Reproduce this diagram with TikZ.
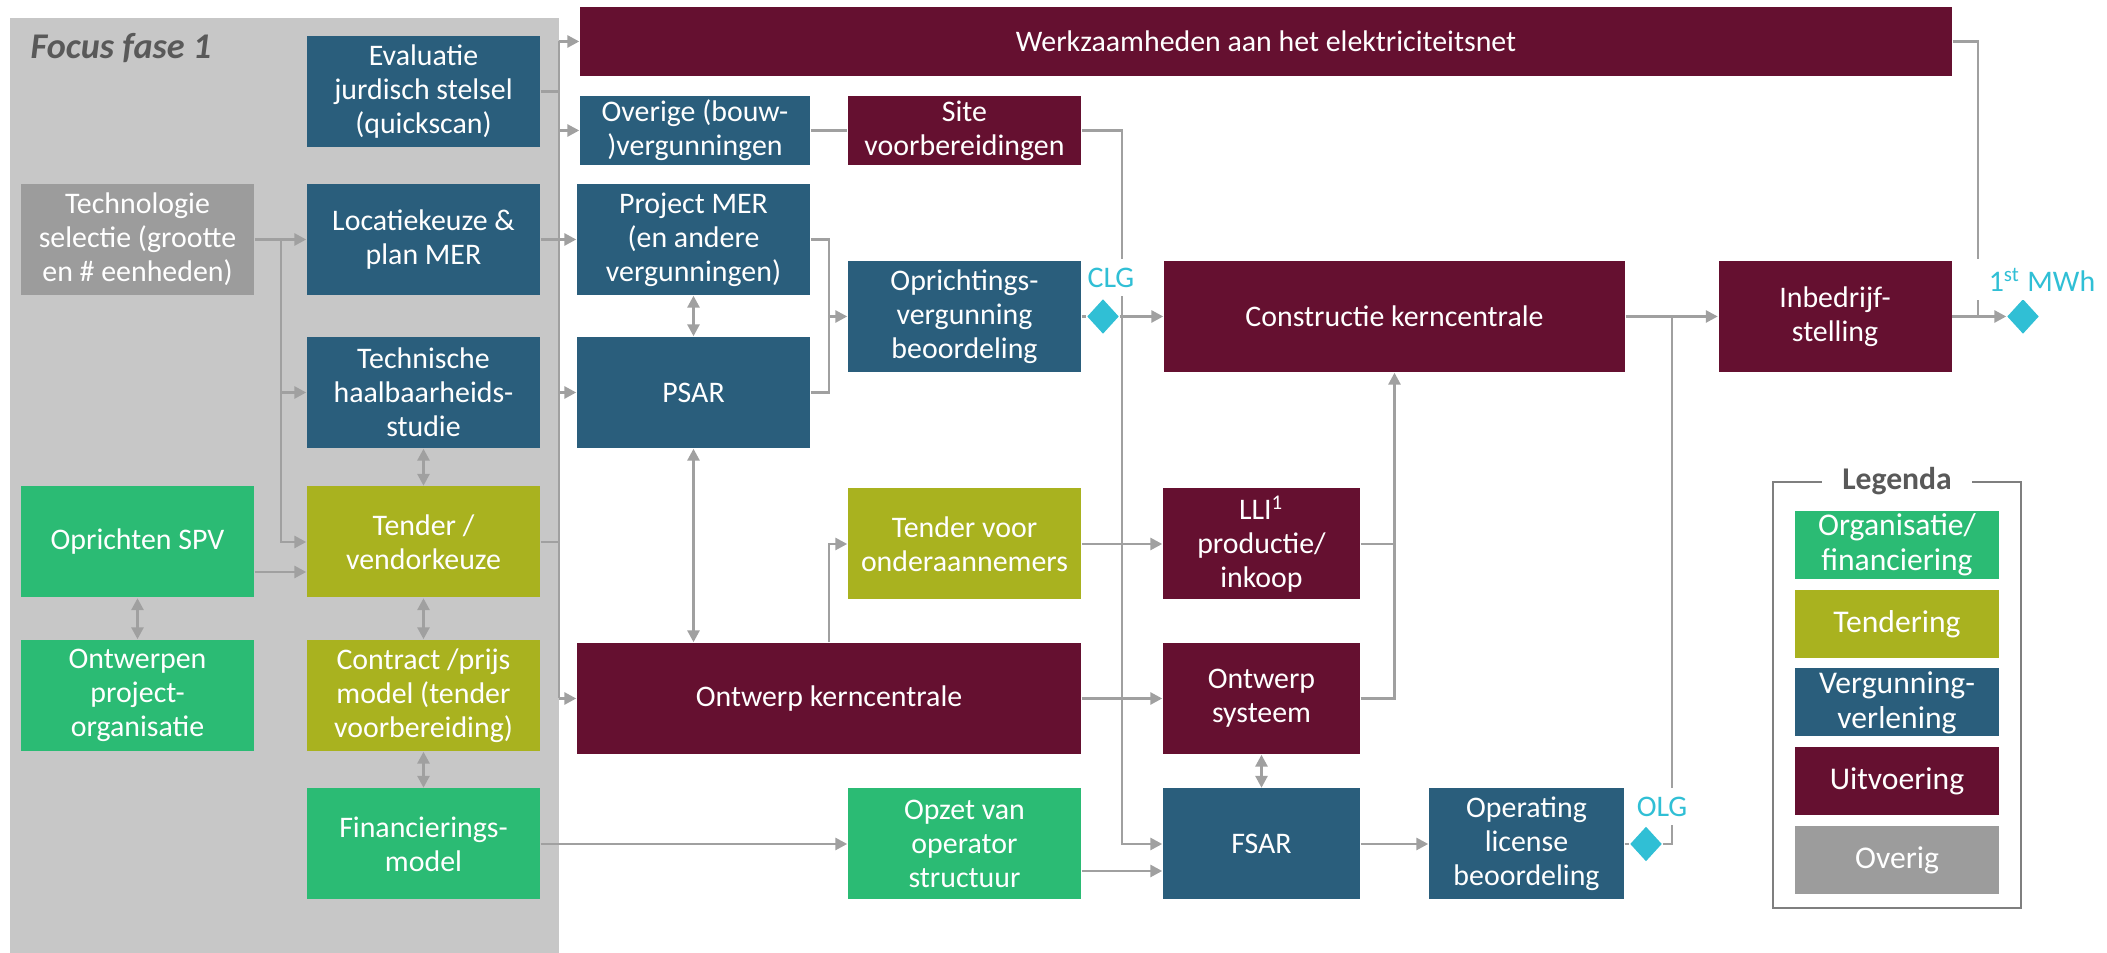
\documentclass[tikz,border=0pt]{standalone}
\usepackage{fontspec}
\setmainfont{Carlito}
\usetikzlibrary{shapes.geometric,arrows.meta}
\definecolor{vergunblauw}{HTML}{2A5E7C}
\definecolor{uitvoerrood}{HTML}{651030}
\definecolor{tenderolijf}{HTML}{A9B21F}
\definecolor{orggroen}{HTML}{2BBB74}
\definecolor{overiggrijs}{HTML}{9C9C9C}
\definecolor{paneelgrijs}{HTML}{C7C7C7}
\definecolor{lijngrijs}{HTML}{A0A0A0}
\definecolor{mijlcyaan}{HTML}{30BFD5}
\definecolor{tekstgrijs}{HTML}{595959}
\definecolor{kadergrijs}{HTML}{7F7F7F}
\begin{document}
\begin{tikzpicture}[x=0.1mm,y=-0.1mm]
\tikzstyle{box}=[rectangle,text=white,align=center,inner sep=0,minimum width=23.3mm,minimum height=11.1mm,font=\fontsize{8.5}{9.7}\selectfont]
\tikzstyle{link}=[draw=lijngrijs,line width=0.28mm]
\tikzset{
	green node/.style={box,fill=orggroen},
	olive node/.style={box,fill=tenderolijf},
	blue node/.style={box,fill=vergunblauw},
	wine node/.style={box,fill=uitvoerrood},
	grey node/.style={box,fill=overiggrijs},
	legend node/.style={minimum width=20.4mm,minimum height=6.8mm,font=\fontsize{9}{10}\selectfont},
	mijlpaal/.style={diamond,fill=mijlcyaan,inner sep=0,minimum width=3.2mm,minimum height=3.5mm},
	mijlpaal label/.style={fill=white,text=mijlcyaan,inner ysep=0.9mm,font=\fontsize{8.5}{9.7}\selectfont},
	flow/.style={link,-{Triangle[length=1.2mm,width=1.2mm]}},
	twoway/.style={link,{Triangle[length=1.2mm,width=1.2mm]}-{Triangle[length=1.2mm,width=1.2mm]}}
}
\useasboundingbox (0,0) rectangle (2107,953);
\node[fill=paneelgrijs,minimum width=54.9mm,minimum height=93.5mm,inner sep=0] (fase1) at (284.5,485.5) {};
\node[anchor=west,inner sep=0,text=tekstgrijs,font=\fontsize{10.3}{12}\selectfont\bfseries\itshape] (fase1titel) at (30,48) {Focus fase 1};

\node[grey node] (techsel) at (137.5,239.5) {Technologie\\selectie (grootte\\en \# eenheden)};
\node[blue node] (evaluatie) at (423.5,91.5) {Evaluatie\\jurdisch stelsel\\(quickscan)};
\node[blue node] (locatie) at (423.5,239.5) {Locatiekeuze \&\\plan MER};
\node[blue node] (haalbaar) at (423.5,392.5) {Technische\\haalbaarheids-\\studie};
\node[green node] (spv) at (137.5,542) {Oprichten SPV};
\node[olive node] (vendor) at (423.5,542) {Tender /\\vendorkeuze};
\node[green node] (projorg) at (137.5,695.5) {Ontwerpen\\project-\\organisatie};
\node[olive node] (contract) at (423.5,695.5) {Contract /prijs\\model (tender\\voorbereiding)};
\node[green node] (finmodel) at (423.5,844) {Financierings-\\model};

\node[wine node,minimum width=137.2mm,minimum height=6.9mm] (net) at (1266,41.5) {Werkzaamheden aan het elektriciteitsnet};
\node[blue node,minimum width=23mm,minimum height=6.9mm] (overige) at (695,130.5) {Overige (bouw-\\)vergunningen};
\node[wine node,minimum height=6.9mm] (site) at (964.5,130.5) {Site\\voorbereidingen};
\node[blue node] (mer) at (693.5,239.5) {Project MER\\(en andere\\vergunningen)};
\node[blue node] (psar) at (693.5,392.5) {PSAR};
\node[blue node] (oprichting) at (964.5,316.5) {Oprichtings-\\vergunning\\beoordeling};
\node[wine node,minimum width=46.1mm] (constructie) at (1394.5,316.5) {Constructie kerncentrale};
\node[wine node] (inbedrijf) at (1835,316.5) {Inbedrijf-\\stelling};
\node[olive node] (tendervoor) at (964.5,544) {Tender voor\\onderaannemers};
\node[wine node,minimum width=19.7mm] (lli) at (1261.5,544) {LLI\textsuperscript{1}\\productie/\\inkoop};
\node[wine node,minimum width=50.4mm] (ontwerp) at (829,698.5) {Ontwerp kerncentrale};
\node[wine node,minimum width=19.7mm] (systeem) at (1261.5,698.5) {Ontwerp\\systeem};
\node[green node] (opzet) at (964.5,844) {Opzet van\\operator\\structuur};
\node[blue node,minimum width=19.7mm] (fsar) at (1261.5,844) {FSAR};
\node[blue node,minimum width=19.5mm] (olic) at (1526.5,844) {Operating\\license\\beoordeling};
\node[mijlpaal] (clg) at (1103,316.5) {};
\node[mijlpaal] (olg) at (1646,844) {};
\node[mijlpaal] (mwh) at (2023,316.5) {};

\coordinate (bus) at (559,0);
\coordinate (splits) at (281,0);
\coordinate (jmer) at (829,316.5);
\coordinate (jsite) at (1122,0);
\coordinate (jolg) at (1672,0);
\coordinate (jnet) at (1978,0);

\draw[flow] (techsel) -- (locatie);
\draw[flow] (splits |- techsel.east) |- (haalbaar.west);
\draw[flow] (splits |- techsel.east) |- (vendor.west);
\draw[flow] ([yshift=-3mm]spv.east) -- ([yshift=-3mm]vendor.west);
\draw[twoway] (spv) -- (projorg);
\draw[twoway] (haalbaar) -- (vendor);
\draw[twoway] (vendor) -- (contract);
\draw[twoway] (contract) -- (finmodel);
\draw[flow] (finmodel) -- (opzet);
\draw[link] (evaluatie.east) -- (bus |- evaluatie.east);
\draw[link] (vendor.east) -- (bus |- vendor.east);
\draw[link] (bus |- net.west) -- (bus |- ontwerp.west);
\draw[flow] (bus |- net.west) -- (net.west);
\draw[flow] (bus |- overige.west) -- (overige.west);
\draw[flow] (locatie) -- (mer);
\draw[flow] (bus |- psar.west) -- (psar.west);
\draw[flow] (bus |- ontwerp.west) -- (ontwerp.west);
\draw[link] (overige) -- (site);
\draw[twoway] (mer) -- (psar);
\draw[twoway] (psar.south) -- (psar.south |- ontwerp.north);
\draw[link] (mer.east) -| (jmer) (psar.east) -| (jmer);
\draw[flow] (jmer) -- (oprichting.west);
\draw[link] (oprichting) -- (clg);
\draw[flow] (clg) -- (constructie);
\draw[flow] (site.east) -| (jsite |- fsar.west) -- (fsar.west);
\draw[flow] (ontwerp.north) |- (tendervoor.west);
\draw[flow] (tendervoor) -- (lli);
\draw[flow] (ontwerp) -- (systeem);
\draw[flow] (lli.east) -| (constructie.south);
\draw[link] (systeem.east) -| (constructie.south |- lli.east);
\draw[twoway] (systeem) -- (fsar);
\draw[flow] ([yshift=-2.7mm]opzet.east) -- ([yshift=-2.7mm]fsar.west);
\draw[flow] (fsar) -- (olic);
\draw[link] (olic) -- (olg);
\draw[link] (olg.east) -| (jolg |- constructie.east);
\draw[flow] (constructie) -- (inbedrijf);
\draw[flow] (inbedrijf) -- (mwh);
\draw[link] (net.east) -| (jnet |- inbedrijf.east);

\node[mijlpaal label,anchor=south,inner xsep=0.5mm] (clglabel) at (1111,297) {CLG};
\node[mijlpaal label,anchor=south,inner xsep=0.5mm] (olglabel) at (1662,826) {OLG};
\node[mijlpaal label,anchor=south,inner xsep=2.2mm] (mwhlabel) at (2042,301) {1\textsuperscript{st} MWh};

\node[draw=kadergrijs,line width=0.28mm,minimum width=24.8mm,minimum height=42.6mm,inner sep=0] (legenda) at (1897,695) {};
\node[fill=white,text=tekstgrijs,inner xsep=2mm,inner ysep=0.5mm,font=\fontsize{9}{10}\selectfont\bfseries] (legendatitel) at (legenda.north) {Legenda};
\node[green node,legend node] (lgorg) at (1897,545) {Organisatie/\\financiering};
\node[olive node,legend node] (lgtender) at (1897,624) {Tendering};
\node[blue node,legend node] (lgvergun) at (1897,702.5) {Vergunning-\\verlening};
\node[wine node,legend node] (lguitvoer) at (1897,781) {Uitvoering};
\node[grey node,legend node] (lgoverig) at (1897,860) {Overig};
\end{tikzpicture}
\end{document}
